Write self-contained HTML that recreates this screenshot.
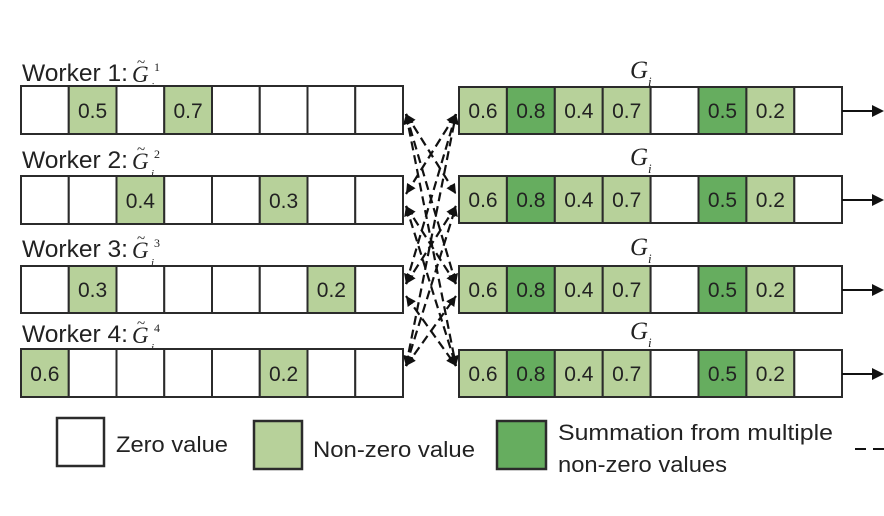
<!DOCTYPE html>
<html>
<head>
<meta charset="utf-8">
<style>
  html, body { margin:0; padding:0; background:#fff; }
  svg { display:block; }
  .w { font-family:"Liberation Sans", sans-serif; font-size:24px; fill:#222; }
  .v { font-family:"Liberation Sans", sans-serif; font-size:21px; fill:#222; text-anchor:middle; }
  .lg { font-family:"Liberation Sans", sans-serif; font-size:22px; fill:#222; }
  .gs { font-family:"Liberation Serif", serif; font-style:italic; fill:#222; }
  .gn { font-family:"Liberation Serif", serif; fill:#222; }
  .c { stroke:#2b2b2b; stroke-width:2; }
  .d { stroke:#111; stroke-width:2.2; stroke-dasharray:9 5; fill:none; }
</style>
</head>
<body>
<svg width="884" height="516" viewBox="0 0 884 516" xmlns="http://www.w3.org/2000/svg">
  <defs>
    <marker id="ah" markerUnits="userSpaceOnUse" markerWidth="12" markerHeight="10" refX="10" refY="5" orient="auto-start-reverse">
      <path d="M0,0 L10,5 L0,10 Z" fill="#111"/>
    </marker>
  </defs>
  <rect width="884" height="516" fill="#fff"/>

  <!-- ===== Left worker labels ===== -->
  <g>
    <text class="w" x="22" y="81" textLength="106" lengthAdjust="spacingAndGlyphs">Worker 1:</text>
    <text class="gs" x="132" y="82" font-size="23">G</text>
    <text class="gn" x="137" y="67" font-size="15">~</text>
    <text class="gn" x="154" y="71" font-size="12">1</text>
    <text class="gs" x="151" y="90" font-size="11">i</text>

    <text class="w" x="22" y="168" textLength="106" lengthAdjust="spacingAndGlyphs">Worker 2:</text>
    <text class="gs" x="132" y="169" font-size="23">G</text>
    <text class="gn" x="137" y="154" font-size="15">~</text>
    <text class="gn" x="154" y="158" font-size="12">2</text>
    <text class="gs" x="151" y="177" font-size="11">i</text>

    <text class="w" x="22" y="257" textLength="106" lengthAdjust="spacingAndGlyphs">Worker 3:</text>
    <text class="gs" x="132" y="258" font-size="23">G</text>
    <text class="gn" x="137" y="243" font-size="15">~</text>
    <text class="gn" x="154" y="247" font-size="12">3</text>
    <text class="gs" x="151" y="266" font-size="11">i</text>

    <text class="w" x="22" y="342" textLength="106" lengthAdjust="spacingAndGlyphs">Worker 4:</text>
    <text class="gs" x="132" y="343" font-size="23">G</text>
    <text class="gn" x="137" y="328" font-size="15">~</text>
    <text class="gn" x="154" y="332" font-size="12">4</text>
    <text class="gs" x="151" y="351" font-size="11">i</text>
  </g>

  <!-- ===== Left arrays ===== -->
  <g class="c">
    <rect x="21" y="86" width="47.75" height="48" fill="#fff"/>
    <rect x="68.75" y="86" width="47.75" height="48" fill="#b7d19a"/>
    <rect x="116.5" y="86" width="47.75" height="48" fill="#fff"/>
    <rect x="164.25" y="86" width="47.75" height="48" fill="#b7d19a"/>
    <rect x="212" y="86" width="47.75" height="48" fill="#fff"/>
    <rect x="259.75" y="86" width="47.75" height="48" fill="#fff"/>
    <rect x="307.5" y="86" width="47.75" height="48" fill="#fff"/>
    <rect x="355.25" y="86" width="47.75" height="48" fill="#fff"/>
  </g>
  <text class="v" x="92.6" y="118">0.5</text>
  <text class="v" x="188.1" y="118">0.7</text>

  <g class="c">
    <rect x="21" y="176" width="47.75" height="48" fill="#fff"/>
    <rect x="68.75" y="176" width="47.75" height="48" fill="#fff"/>
    <rect x="116.5" y="176" width="47.75" height="48" fill="#b7d19a"/>
    <rect x="164.25" y="176" width="47.75" height="48" fill="#fff"/>
    <rect x="212" y="176" width="47.75" height="48" fill="#fff"/>
    <rect x="259.75" y="176" width="47.75" height="48" fill="#b7d19a"/>
    <rect x="307.5" y="176" width="47.75" height="48" fill="#fff"/>
    <rect x="355.25" y="176" width="47.75" height="48" fill="#fff"/>
  </g>
  <text class="v" x="140.4" y="208">0.4</text>
  <text class="v" x="283.6" y="208">0.3</text>

  <g class="c">
    <rect x="21" y="266" width="47.75" height="47" fill="#fff"/>
    <rect x="68.75" y="266" width="47.75" height="47" fill="#b7d19a"/>
    <rect x="116.5" y="266" width="47.75" height="47" fill="#fff"/>
    <rect x="164.25" y="266" width="47.75" height="47" fill="#fff"/>
    <rect x="212" y="266" width="47.75" height="47" fill="#fff"/>
    <rect x="259.75" y="266" width="47.75" height="47" fill="#fff"/>
    <rect x="307.5" y="266" width="47.75" height="47" fill="#b7d19a"/>
    <rect x="355.25" y="266" width="47.75" height="47" fill="#fff"/>
  </g>
  <text class="v" x="92.6" y="297">0.3</text>
  <text class="v" x="331.4" y="297">0.2</text>

  <g class="c">
    <rect x="21" y="349" width="47.75" height="48" fill="#b7d19a"/>
    <rect x="68.75" y="349" width="47.75" height="48" fill="#fff"/>
    <rect x="116.5" y="349" width="47.75" height="48" fill="#fff"/>
    <rect x="164.25" y="349" width="47.75" height="48" fill="#fff"/>
    <rect x="212" y="349" width="47.75" height="48" fill="#fff"/>
    <rect x="259.75" y="349" width="47.75" height="48" fill="#b7d19a"/>
    <rect x="307.5" y="349" width="47.75" height="48" fill="#fff"/>
    <rect x="355.25" y="349" width="47.75" height="48" fill="#fff"/>
  </g>
  <text class="v" x="44.9" y="381">0.6</text>
  <text class="v" x="283.6" y="381">0.2</text>

  <!-- ===== Right G_i labels ===== -->
  <text class="gs" x="630" y="78" font-size="25">G</text><text class="gs" x="648" y="86" font-size="13">i</text>
  <text class="gs" x="630" y="165" font-size="25">G</text><text class="gs" x="648" y="173" font-size="13">i</text>
  <text class="gs" x="630" y="255" font-size="25">G</text><text class="gs" x="648" y="263" font-size="13">i</text>
  <text class="gs" x="630" y="339" font-size="25">G</text><text class="gs" x="648" y="347" font-size="13">i</text>

  <!-- ===== Right arrays ===== -->
  <g id="rrow1">
    <g class="c">
      <rect x="459" y="87" width="47.9" height="47" fill="#b7d19a"/>
      <rect x="506.9" y="87" width="47.9" height="47" fill="#66ad5f"/>
      <rect x="554.8" y="87" width="47.9" height="47" fill="#b7d19a"/>
      <rect x="602.7" y="87" width="47.9" height="47" fill="#b7d19a"/>
      <rect x="650.6" y="87" width="47.9" height="47" fill="#fff"/>
      <rect x="698.5" y="87" width="47.9" height="47" fill="#66ad5f"/>
      <rect x="746.4" y="87" width="47.9" height="47" fill="#b7d19a"/>
      <rect x="794.3" y="87" width="47.7" height="47" fill="#fff"/>
    </g>
    <text class="v" x="483" y="118">0.6</text>
    <text class="v" x="530.9" y="118">0.8</text>
    <text class="v" x="578.8" y="118">0.4</text>
    <text class="v" x="626.7" y="118">0.7</text>
    <text class="v" x="722.5" y="118">0.5</text>
    <text class="v" x="770.4" y="118">0.2</text>
  </g>
  <use href="#rrow1" transform="translate(0,89)"/>
  <use href="#rrow1" transform="translate(0,179)"/>
  <use href="#rrow1" transform="translate(0,263)"/>

  <!-- Output arrows -->
  <g stroke="#111" stroke-width="2">
    <line x1="842" y1="111" x2="874" y2="111"/>
    <line x1="842" y1="200" x2="874" y2="200"/>
    <line x1="842" y1="290" x2="874" y2="290"/>
    <line x1="842" y1="374" x2="874" y2="374"/>
  </g>
  <g fill="#111">
    <path d="M872,105 L884,111 L872,117 Z"/>
    <path d="M872,194 L884,200 L872,206 Z"/>
    <path d="M872,284 L884,290 L872,296 Z"/>
    <path d="M872,368 L884,374 L872,380 Z"/>
  </g>

  <!-- ===== Dashed exchange connectors ===== -->
  <g class="d" marker-start="url(#ah)" marker-end="url(#ah)">
    <line x1="406" y1="114" x2="456" y2="194"/>
    <line x1="406" y1="114" x2="456" y2="284"/>
    <line x1="406" y1="114" x2="456" y2="366"/>
    <line x1="406" y1="194" x2="456" y2="114"/>
    <line x1="406" y1="206" x2="456" y2="284"/>
    <line x1="406" y1="206" x2="456" y2="366"/>
    <line x1="406" y1="284" x2="456" y2="114"/>
    <line x1="406" y1="284" x2="456" y2="206"/>
    <line x1="406" y1="296" x2="456" y2="366"/>
    <line x1="406" y1="366" x2="456" y2="114"/>
    <line x1="406" y1="366" x2="456" y2="206"/>
    <line x1="406" y1="366" x2="456" y2="296"/>
  </g>

  <!-- ===== Legend ===== -->
  <rect x="57" y="418" width="47" height="48" fill="#fff" stroke="#2b2b2b" stroke-width="2.5"/>
  <text class="lg" x="116" y="452" textLength="112" lengthAdjust="spacingAndGlyphs">Zero value</text>

  <rect x="254" y="421" width="48" height="48" fill="#b7d19a" stroke="#2b2b2b" stroke-width="2.5"/>
  <text class="lg" x="313" y="457" textLength="162" lengthAdjust="spacingAndGlyphs">Non-zero value</text>

  <rect x="497" y="421" width="49" height="48" fill="#66ad5f" stroke="#2b2b2b" stroke-width="2.5"/>
  <text class="lg" x="558" y="440" textLength="275" lengthAdjust="spacingAndGlyphs">Summation from multiple</text>
  <text class="lg" x="558" y="472" textLength="169" lengthAdjust="spacingAndGlyphs">non-zero values</text>

  <g stroke="#111" stroke-width="2">
    <line x1="855" y1="449" x2="866" y2="449"/>
    <line x1="873" y1="449" x2="884" y2="449"/>
  </g>
</svg>
</body>
</html>
